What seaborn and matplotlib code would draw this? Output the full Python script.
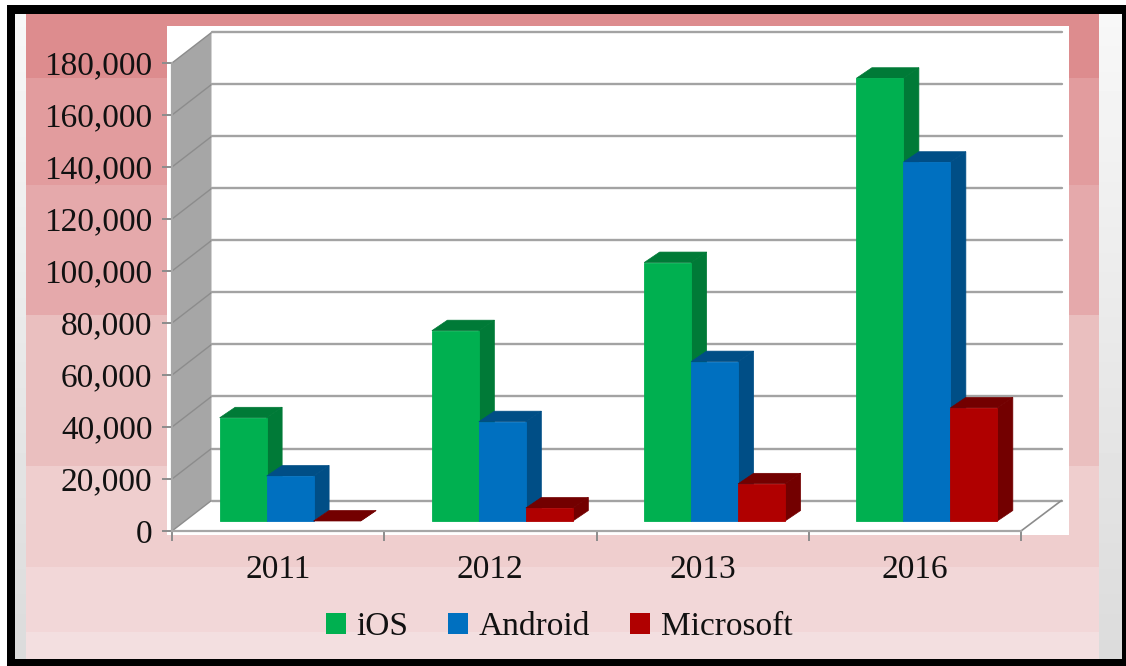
#!/usr/bin/env python3
"""Smartphone OS bar chart with a fake 3D look (seaborn bars + extruded faces)."""

import numpy as np
import pandas as pd
import matplotlib
matplotlib.use('Agg')
import matplotlib.pyplot as plt
from matplotlib.patches import Polygon, Rectangle
from matplotlib.transforms import IdentityTransform, ScaledTranslation
import seaborn as sns

# data
years = ['2011', '2012', '2013', '2016']
series_names = ['iOS', 'Android', 'Microsoft']
ios_values = [39700, 73200, 99400, 170300]
android_values = [17300, 38200, 61300, 138000]
microsoft_values = [0, 5000, 14300, 43500]
y_ticks = [0, 20000, 40000, 60000, 80000, 100000, 120000, 140000, 160000, 180000]

front_colors = ['#00B050', '#0070C0', '#B00000']
dark_colors = ['#007A37', '#004E86', '#730000']

W, H = 1126, 666
DPI = 100

df = pd.DataFrame({
    'year': years * 3,
    'os': np.repeat(series_names, len(years)),
    'value': ios_values + android_values + microsoft_values,
})

sns.set_theme(style='white')
plt.rcParams['font.family'] = ['Liberation Serif', 'DejaVu Serif']

fig = plt.figure(figsize=(W / DPI, H / DPI), dpi=DPI, facecolor='white')

# picture frame and pink background, in pixel coordinates
bg = fig.add_axes([0, 0, 1, 1], zorder=0)
bg.set_xlim(0, W)
bg.set_ylim(H, 0)
bg.axis('off')

strip = np.linspace(0.97, 0.86, 100).reshape(-1, 1)
bg.imshow(strip, extent=(1099, 1123, 659, 14), cmap='gray', vmin=0, vmax=1, aspect='auto')
bg.imshow(strip, extent=(15, 26, 659, 14), cmap='gray', vmin=0, vmax=1, aspect='auto')
bg.set_xlim(0, W)
bg.set_ylim(H, 0)

band_edges = [14, 78, 185, 315, 466, 567, 632, 659]
band_colors = ['#DD8C8E', '#E29C9E', '#E5A9AB', '#EABFBF', '#EFCECE', '#F2D7D8', '#F3DFE0']
for top, bottom, color in zip(band_edges[:-1], band_edges[1:], band_colors):
    bg.add_patch(Rectangle((26, top), 1073, bottom - top, color=color, lw=0))

bg.add_patch(Rectangle((167, 26), 902, 509, color='white', lw=0))

for x, y, w, h in [(7, 5, 1119, 9), (7, 5, 8, 661), (1122, 5, 4, 661), (7, 659, 1119, 7)]:
    bg.add_patch(Rectangle((x, y), w, h, color='black', lw=0))

# chart axes: front plane of the 3D box
ax = fig.add_axes([172 / W, 1 - 531 / H, (1021 - 172) / W, (531 - 63) / H], zorder=1)
ax.patch.set_visible(False)

palette = dict(zip(series_names, front_colors))
sns.barplot(data=df, x='year', y='value', hue='os', hue_order=series_names, order=years,
            palette=palette, width=0.664, gap=0, saturation=1, ax=ax, zorder=5)

ax.set_xlim(-0.5, 3.5)
ax.set_ylim(0, 180000)
ax.set_xlabel('')
ax.set_ylabel('')
ax.set_yticks(y_ticks)
ax.set_yticklabels([f'{v:,}' for v in y_ticks])
ax.set_xticks(np.arange(-0.5, 4), minor=True)
ax.tick_params(axis='x', which='major', length=0, pad=17, labelsize=24, colors='#111111')
ax.tick_params(axis='x', which='minor', length=7, width=1.4, color='#8C8C8C', bottom=True)
ax.tick_params(axis='y', length=7, width=1.4, pad=7, labelsize=24, left=True,
               color='#8C8C8C', labelcolor='#111111')
for side in ['top', 'right']:
    ax.spines[side].set_visible(False)
for side in ['left', 'bottom']:
    ax.spines[side].set_color('#A6A6A6')
    ax.spines[side].set_linewidth(1.6)

fig.canvas.draw()

# back wall and floor, pushed back by the box depth
DEPTH_X, DEPTH_Y = 39.5, 30.5
px = IdentityTransform()
x0, y_low = ax.transData.transform((-0.5, 0))
x1, _ = ax.transData.transform((3.5, 0))
_, y_high = ax.transData.transform((-0.5, 180000))

ax.add_patch(Polygon([(x0, y_low), (x0, y_high), (x0 + DEPTH_X, y_high + DEPTH_Y),
                      (x0 + DEPTH_X, y_low + DEPTH_Y)],
                     closed=True, facecolor='#A6A6A6', edgecolor='none',
                     transform=px, clip_on=False, zorder=1))
for v in y_ticks:
    _, yp = ax.transData.transform((0, v))
    ax.plot([x0, x0 + DEPTH_X], [yp, yp + DEPTH_Y], color='#8C8C8C', lw=1.0,
            transform=px, clip_on=False, zorder=2)
    ax.plot([x0 + DEPTH_X, x1 + DEPTH_X + 1], [yp + DEPTH_Y, yp + DEPTH_Y], color='#A3A3A3', lw=1.7,
            transform=px, clip_on=False, zorder=2)
ax.plot([x1, x1 + DEPTH_X + 1], [y_low, y_low + DEPTH_Y], color='#8C8C8C', lw=1.2,
        transform=px, clip_on=False, zorder=2)
ax.add_patch(Polygon([(x0, y_low), (x1, y_low), (x1 + DEPTH_X, y_low + DEPTH_Y),
                      (x0 + DEPTH_X, y_low + DEPTH_Y)],
                     closed=True, facecolor='white', edgecolor='none',
                     transform=px, clip_on=False, zorder=1.5))

# bars sit a little inside the box, then get a top and a side face
BAR_SHIFT_X, BAR_SHIFT_Y = 12, 10
BAR_DX, BAR_DY = 15.5, 10.5
bar_trans = ax.transData + ScaledTranslation(BAR_SHIFT_X / DPI, BAR_SHIFT_Y / DPI, fig.dpi_scale_trans)

order = 0
for i_year in range(len(years)):
    for i_series, container in enumerate(ax.containers):
        bar = container[i_year]
        bar.set_transform(bar_trans)
        bar.set_clip_on(False)
        bar.set_edgecolor(front_colors[i_series])
        # a zero bar only shows its dark top face
        bar.set_linewidth(0.6 if bar.get_height() > 0 else 0)
        left, bottom = bar_trans.transform((bar.get_x(), 0))
        right, top = bar_trans.transform((bar.get_x() + bar.get_width(), bar.get_height()))
        dark = dark_colors[i_series]
        side = Polygon([(right, bottom), (right, top), (right + BAR_DX, top + BAR_DY),
                        (right + BAR_DX, bottom + BAR_DY)],
                       closed=True, facecolor=dark, edgecolor=dark, lw=0.5, transform=px, clip_on=False)
        roof = Polygon([(left, top), (right, top), (right + BAR_DX, top + BAR_DY),
                        (left + BAR_DX, top + BAR_DY)],
                       closed=True, facecolor=dark, edgecolor=dark, lw=0.5, transform=px, clip_on=False)
        side.set_zorder(5 + order)
        roof.set_zorder(5 + order)
        bar.set_zorder(5.5 + order)
        ax.add_patch(side)
        ax.add_patch(roof)
        order += 1

# legend
handles, labels = ax.get_legend_handles_labels()
ax.get_legend().remove()
leg = fig.legend(handles, labels, ncol=3, loc='center', bbox_to_anchor=(559 / W, 1 - 627 / H),
                 frameon=False, fontsize=24, handlelength=0.6, handleheight=0.6,
                 handletextpad=0.32, columnspacing=1.2, labelcolor='#111111')
for handle in leg.get_patches():
    handle.set_edgecolor('none')
    handle.set_linewidth(0)

fig.savefig('out.png', dpi=DPI)
plt.close(fig)
